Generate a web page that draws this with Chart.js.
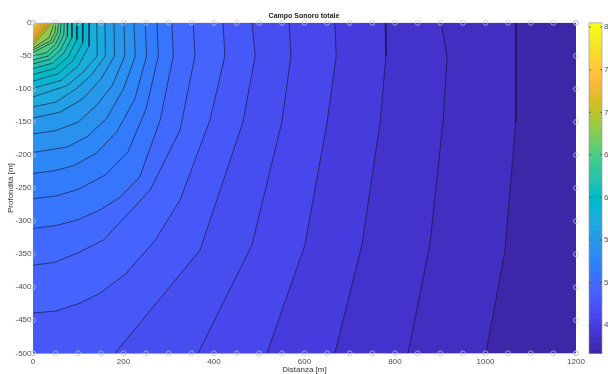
<!DOCTYPE html>
<html><head><meta charset="utf-8">
<style>
html,body{margin:0;padding:0;overflow:hidden;background:#fff;width:608px;height:374px}
#wrap{position:absolute;left:0;top:0;width:640px;height:374px}
</style>
<script src="https://cdn.jsdelivr.net/npm/chart.js@4.4.0/dist/chart.umd.min.js"></script>
</head><body><div id="wrap"><canvas id="c" width="640" height="374"></canvas></div>
<script>
// ---------- data ----------
const xTicks = [0, 200, 400, 600, 800, 1000, 1200];
const yTicks = [0, -50, -100, -150, -200, -250, -300, -350, -400, -450, -500];
const cbTicks = [4.5, 5, 5.5, 6, 6.5, 7, 7.5, 8];
const cLim = [4.17, 8.05];
const gridX = [0,50,100,150,200,250,300,350,400,450,500,550,600,650,700,750,800,850,900,950,1000,1050,1100,1150,1200];
const gridY = [0,-50,-100,-150,-200,-250,-300,-350,-400,-450,-500];

// contour levels, outermost (lowest) first
const levels = [4.3,4.4,4.5,4.6,4.7,4.8,4.9,5.0,5.1,5.2,5.3,5.4,5.5,5.6,5.7,5.8,5.9,6.0,6.1,6.2,6.3,6.4,6.5,6.6,6.7,6.8,6.9,7.0,7.1,7.2,7.3,7.4,7.5,7.6,7.7,7.8,7.9,8.0];
// contour polylines [distance, depth], from the surface to the left or bottom edge
const c43 = [[1067,0],[1067,-50],[1067,-150],[1043,-345],[1001,-500]];
const c44 = [[902,0],[915,-50],[906,-150],[877,-336],[829,-500]];
const c45 = [[778,0],[780,-50],[767,-150],[727,-336],[667,-500]];
const c46 = [[667,0],[670,-50],[650,-150],[601,-336],[517,-500]];
const c47 = [[566,0],[570,-50],[550,-150],[484,-336],[365,-500]];
const c48 = [[484,0],[491,-50],[464,-150],[369,-344],[181,-500]];
const c49 = [[420,0],[424,-50],[391,-147],[325,-268],[270,-329],[203,-381],[148,-409],[104,-424],[51,-436],[0,-439]];
const c50 = [[354,0],[358,-50],[325,-162],[259,-253],[155,-329],[99,-348],[49,-362],[0,-367]];
const c51 = [[307,0],[310,-50],[281,-147],[236,-233],[192,-264],[148,-283],[99,-298],[49,-307],[0,-311]];
const c52 = [[274,0],[277,-50],[250,-130],[210,-195],[160,-230],[100,-252],[50,-262],[0,-266]];
const c53 = [[248,0],[251,-50],[225,-115],[185,-165],[140,-197],[90,-216],[45,-224],[0,-228]];
const c54 = [[223,0],[226,-50],[200,-100],[162,-145],[120,-172],[75,-188],[0,-196]];
const c55 = [[201,0],[203,-50],[175,-95],[140,-125],[100,-150],[50,-163],[0,-168]];
const c56 = [[179,0],[180,-50],[150,-85],[110,-115],[60,-135],[0,-144]];
const c57 = [[159,0],[160,-50],[130,-78],[95,-100],[50,-120],[0,-127]];
const c58 = [[141,0],[142,-50],[110,-75],[75,-95],[0,-112]];
const c59 = [[124,0],[124,-35],[100,-65],[62,-87],[0,-99]];
const c60 = [[110,0],[110,-30],[88,-57],[55,-77],[0,-88]];
const c61 = [[97,0],[97,-25],[78,-51],[48,-69],[0,-78]];
const c62 = [[86,0],[86,-22],[69,-45],[43,-61],[0,-69]];
const c63 = [[77,0],[76,-20],[61,-41],[38,-55],[0,-62]];
const c64 = [[69,0],[68,-18],[55,-36],[34,-50],[0,-56]];
const c65 = [[62,0],[60,-17],[50,-32],[30,-45],[0,-50]];
const c66 = [[56,0],[54,-15],[44,-29],[0,-45]];
const c67 = [[51,0],[48,-15],[39,-27],[0,-41]];
const c68 = [[47,0],[36,-22],[0,-38]];
const c69 = [[44,0],[0,-35]];
const c70 = [[40.5,0],[0,-32.3]];
const c71 = [[37,0],[0,-29.5]];
const c72 = [[33.6,0],[0,-26.8]];
const c73 = [[30,0],[0,-24]];
const c74 = [[26.7,0],[0,-21.4]];
const c75 = [[23.3,0],[0,-18.6]];
const c76 = [[19.8,0],[0,-15.9]];
const c77 = [[16.4,0],[0,-13.2]];
const c78 = [[13,0],[0,-10.5]];
const c79 = [[9.5,0],[0,-7.7]];
const c80 = [[6,0],[0,-5]];
const contourLines = [c43,c44,c45,c46,c47,c48,c49,c50,c51,c52,c53,c54,c55,c56,c57,c58,c59,c60,c61,c62,c63,c64,c65,c66,c67,c68,c69,c70,c71,c72,c73,c74,c75,c76,c77,c78,c79,c80];

// ---------- styling ----------
const parula = [[0.2422,0.1504,0.6603],[0.2504,0.1650,0.7076],[0.2578,0.1818,0.7511],[0.2647,0.1978,0.7952],[0.2706,0.2147,0.8364],[0.2751,0.2342,0.8710],[0.2783,0.2559,0.8991],[0.2803,0.2782,0.9221],[0.2813,0.3006,0.9414],[0.2810,0.3228,0.9579],[0.2795,0.3447,0.9717],[0.2760,0.3667,0.9829],[0.2699,0.3892,0.9906],[0.2602,0.4123,0.9952],[0.2440,0.4358,0.9988],[0.2206,0.4603,0.9973],[0.1963,0.4847,0.9892],[0.1834,0.5074,0.9798],[0.1786,0.5289,0.9682],[0.1764,0.5499,0.9520],[0.1687,0.5703,0.9359],[0.1540,0.5902,0.9218],[0.1460,0.6091,0.9079],[0.1380,0.6276,0.8973],[0.1248,0.6459,0.8883],[0.1113,0.6635,0.8763],[0.0952,0.6798,0.8598],[0.0689,0.6948,0.8394],[0.0297,0.7082,0.8163],[0.0036,0.7203,0.7917],[0.0067,0.7312,0.7660],[0.0433,0.7411,0.7394],[0.0964,0.7500,0.7120],[0.1408,0.7584,0.6842],[0.1717,0.7670,0.6554],[0.1938,0.7758,0.6251],[0.2161,0.7843,0.5923],[0.2470,0.7918,0.5567],[0.2906,0.7973,0.5188],[0.3406,0.8008,0.4789],[0.3909,0.8029,0.4354],[0.4456,0.8024,0.3909],[0.5044,0.7993,0.3480],[0.5616,0.7942,0.3045],[0.6174,0.7876,0.2612],[0.6720,0.7793,0.2227],[0.7242,0.7698,0.1910],[0.7738,0.7598,0.1646],[0.8203,0.7498,0.1535],[0.8634,0.7406,0.1596],[0.9035,0.7330,0.1774],[0.9393,0.7288,0.2100],[0.9728,0.7298,0.2394],[0.9956,0.7434,0.2371],[0.9970,0.7659,0.2199],[0.9952,0.7893,0.2028],[0.9892,0.8136,0.1885],[0.9786,0.8386,0.1766],[0.9676,0.8639,0.1643],[0.9610,0.8890,0.1537],[0.9597,0.9135,0.1423],[0.9628,0.9373,0.1265],[0.9691,0.9606,0.1064],[0.9769,0.9839,0.0805]];
function rgbOf(c){return 'rgb('+Math.round(c[0]*255)+','+Math.round(c[1]*255)+','+Math.round(c[2]*255)+')';}
function cmap(v){
  let t=(v-cLim[0])/(cLim[1]-cLim[0]); t=Math.max(0,Math.min(1,t));
  return rgbOf(parula[Math.min(63,Math.floor(t*64))]);
}
const xMin=0,xMax=1200,yMin=-500,yMax=0;
const FONT='"Liberation Sans", Arial, sans-serif';
const LINE='rgba(20,20,50,0.9)';
const LINE_HOT='rgba(120,50,30,0.75)';

// fillSets[0] = highest level (smallest region) -> drawn last
const fillSets=[], lineSets=[];
for(let i=contourLines.length-1;i>=0;i--){
  const pts=contourLines[i].map(p=>({x:p[0],y:p[1]}));
  const last=pts[pts.length-1];
  const prefix = last.y===yMin ? [{x:xMin,y:yMin},{x:xMin,y:yMax}] : [{x:xMin,y:yMax}];
  const hot=levels[i]>6.85;
  fillSets.push({data:prefix.concat(pts),fill:'shape',backgroundColor:cmap(levels[i]),borderWidth:0,pointRadius:0,showLine:true,tension:0});
  lineSets.push({data:pts,fill:false,borderColor:hot?LINE_HOT:LINE,borderWidth:hot?0.45:0.7,pointRadius:0,showLine:true,tension:0});
}
const edgePts=[];
gridX.forEach(x=>{edgePts.push({x,y:yMax});edgePts.push({x,y:yMin});});
gridY.forEach(y=>{edgePts.push({x:xMin,y});edgePts.push({x:xMax,y});});
const circleSet={data:edgePts,showLine:false,pointRadius:2.4,pointHoverRadius:2.4,pointBorderWidth:0.8,pointBorderColor:'rgba(190,195,210,0.95)',pointBackgroundColor:'rgba(0,0,0,0)',clip:false};

const bgPlugin={id:'bg',beforeDraw(chart){
  const a=chart.chartArea,ctx=chart.ctx;
  ctx.save();ctx.fillStyle=cmap(cLim[0]);ctx.fillRect(a.left,a.top,a.right-a.left,a.bottom-a.top);ctx.restore();
}};
const cbPlugin={id:'cbar',afterDraw(chart){
  const s=chart.scales.cb,ctx=chart.ctx;
  const x0=s.left+13,w=13;
  ctx.save();
  for(let i=0;i<64;i++){
    const v0=cLim[0]+(cLim[1]-cLim[0])*i/64, v1=cLim[0]+(cLim[1]-cLim[0])*(i+1)/64;
    const ya=s.getPixelForValue(v1), yb=s.getPixelForValue(v0);
    ctx.fillStyle=rgbOf(parula[i]);
    ctx.fillRect(x0,ya,w,yb-ya+0.6);
  }
  ctx.strokeStyle='rgba(150,150,150,0.9)';ctx.lineWidth=0.7;
  ctx.strokeRect(x0,s.top,w,s.bottom-s.top);
  ctx.strokeStyle='rgba(60,60,60,0.9)';
  cbTicks.forEach(v=>{const y=s.getPixelForValue(v);ctx.beginPath();ctx.moveTo(x0+w-2,y);ctx.lineTo(x0+w,y);ctx.moveTo(x0,y);ctx.lineTo(x0+2,y);ctx.stroke();});
  ctx.restore();
}};

const tickFont={family:FONT,size:8};
const noPad=s=>{s.paddingTop=0;s.paddingBottom=0;};
const noGrid={display:false,drawTicks:false,tickLength:0};
new Chart(document.getElementById('c'),{
  type:'line',
  data:{datasets:[circleSet].concat(lineSets).concat(fillSets)},
  options:{
    responsive:false,animation:false,events:[],
    layout:{padding:{left:0,right:32,top:0,bottom:0},autoPadding:false},
    plugins:{
      legend:{display:false},tooltip:{enabled:false},
      filler:{drawTime:'beforeDatasetsDraw'},
      title:{display:true,text:'Campo Sonoro totale',color:'#222',font:{family:FONT,size:7,weight:'bold',lineHeight:1.2},padding:{top:11.8,bottom:2.7}}
    },
    scales:{
      x:{type:'linear',min:xMin,max:xMax,
        afterBuildTicks:s=>{s.ticks=xTicks.map(v=>({value:v}));},
        ticks:{font:tickFont,color:'#4d4d4d',padding:4,maxRotation:0,autoSkip:false,callback:v=>String(v)},
        grid:noGrid,border:{display:false},
        title:{display:true,text:'Distanza [m]',color:'#333',font:{family:FONT,size:8,lineHeight:1.2},padding:{top:0,bottom:-1}},
        afterFit:s=>{s.height=20.7;s.paddingLeft=0;s.paddingRight=0;}},
      y:{type:'linear',min:yMin,max:yMax,
        afterBuildTicks:s=>{s.ticks=yTicks.map(v=>({value:v}));},
        ticks:{font:tickFont,color:'#4d4d4d',padding:1.5,autoSkip:false,callback:v=>String(v)},
        grid:noGrid,border:{display:false},
        title:{display:true,text:'Profondità [m]',color:'#333',font:{family:FONT,size:8,lineHeight:1.2},padding:{top:6,bottom:0}},
        afterFit:s=>{s.width=33;noPad(s);}},
      cb:{type:'linear',position:'right',min:cLim[0],max:cLim[1],
        afterBuildTicks:s=>{s.ticks=cbTicks.map(v=>({value:v}));},
        ticks:{font:tickFont,color:'#4d4d4d',padding:28,autoSkip:false,callback:v=>String(v)},
        grid:noGrid,border:{display:false},
        afterFit:s=>{s.width=32;noPad(s);}}
    }
  },
  plugins:[bgPlugin,cbPlugin]
});
</script></body></html>
